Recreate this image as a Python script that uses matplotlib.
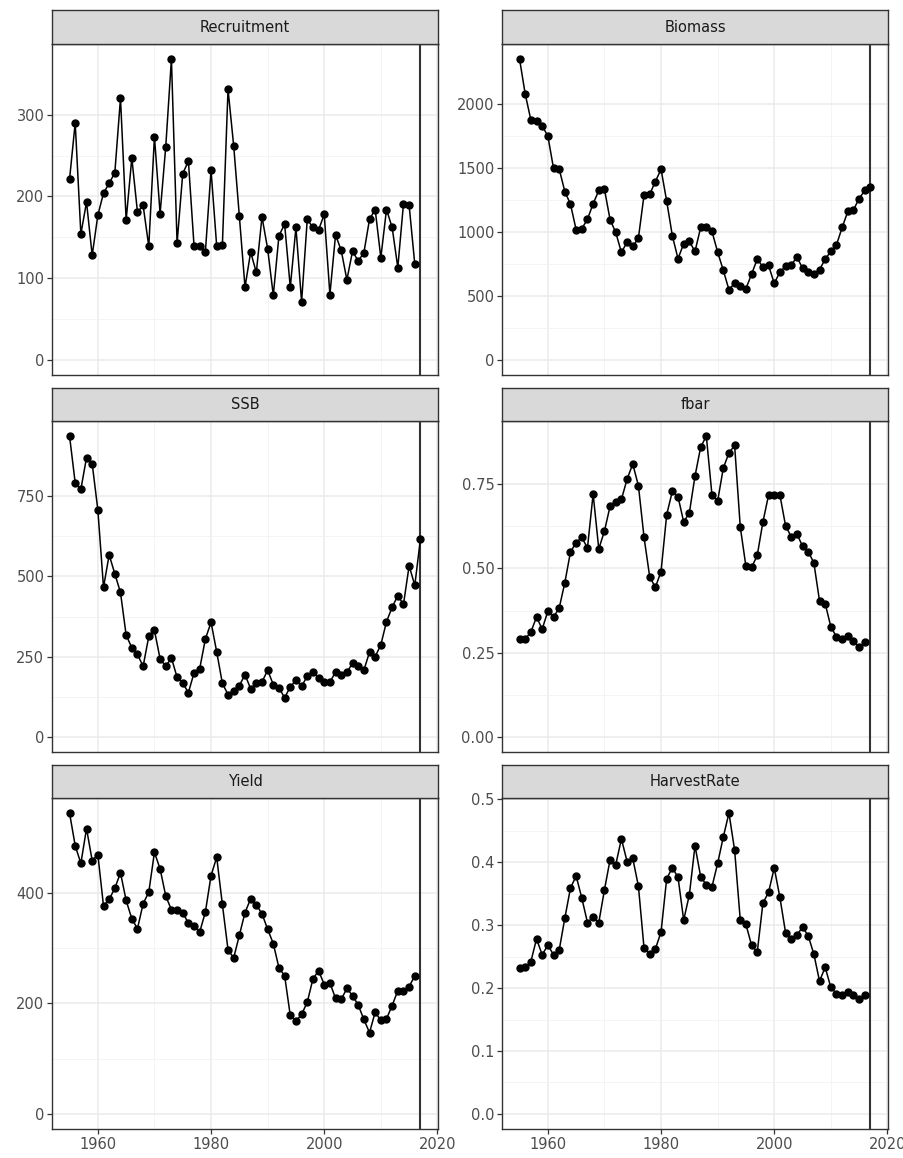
import numpy as np
import matplotlib
matplotlib.use("Agg")
import matplotlib.pyplot as plt

plt.rcParams['font.family'] = ['DejaVu Sans']

# years (Biomass and SSB carry one extra year)
years = np.arange(1955, 2017)
years_ext = np.arange(1955, 2018)
ref_year = 2017

recruitment = [221, 290, 154, 193, 128, 177, 204, 216, 229, 320, 171, 247, 181, 189, 139,
               273, 179, 261, 368, 143, 228, 243, 139, 139, 132, 232, 139, 140, 331, 262,
               176, 89, 132, 107, 175, 136, 79, 152, 166, 89, 162, 71, 172, 162, 159, 178,
               80, 153, 134, 98, 133, 121, 131, 172, 184, 125, 184, 162, 113, 191, 189, 117]

biomass = [2351, 2078, 1875, 1867, 1828, 1750, 1498, 1493, 1316, 1217, 1017, 1025, 1100,
           1220, 1324, 1334, 1095, 996, 840, 921, 887, 952, 1290, 1295, 1394, 1490, 1240,
           970, 791, 908, 926, 848, 1035, 1035, 1004, 843, 700, 549, 601, 575, 557, 671,
           788, 726, 739, 598, 687, 731, 741, 804, 718, 687, 671, 705, 788, 848, 900, 1035,
           1160, 1173, 1261, 1324, 1355]

ssb = [937, 791, 771, 870, 851, 707, 466, 567, 508, 450, 317, 278, 257, 220, 313, 332,
       243, 220, 246, 186, 168, 138, 200, 213, 305, 357, 265, 167, 132, 144, 160, 194,
       150, 167, 171, 208, 163, 153, 122, 156, 177, 158, 189, 202, 184, 171, 171, 202,
       192, 202, 229, 220, 208, 264, 250, 287, 359, 404, 440, 413, 533, 472, 617]

fbar = [0.291, 0.291, 0.311, 0.356, 0.320, 0.373, 0.356, 0.382, 0.458, 0.549, 0.577,
        0.592, 0.561, 0.721, 0.558, 0.611, 0.685, 0.696, 0.705, 0.765, 0.810, 0.746,
        0.592, 0.475, 0.444, 0.491, 0.660, 0.729, 0.713, 0.638, 0.665, 0.774, 0.860,
        0.893, 0.718, 0.700, 0.798, 0.843, 0.865, 0.623, 0.506, 0.503, 0.539, 0.638,
        0.718, 0.719, 0.718, 0.627, 0.594, 0.603, 0.566, 0.550, 0.517, 0.404, 0.396,
        0.327, 0.297, 0.290, 0.299, 0.285, 0.266, 0.281]

yield_ = [544, 485, 453, 516, 458, 469, 376, 388, 408, 436, 386, 353, 335, 380, 401, 473,
          443, 394, 369, 368, 364, 345, 340, 329, 365, 431, 464, 379, 297, 282, 323, 364,
          389, 378, 362, 334, 308, 264, 250, 178, 168, 180, 202, 244, 259, 234, 237, 209,
          207, 227, 214, 197, 171, 147, 184, 169, 172, 196, 223, 222, 230, 250]

harvest_rate = [0.232, 0.233, 0.242, 0.278, 0.253, 0.268, 0.253, 0.260, 0.311, 0.359,
                0.378, 0.343, 0.304, 0.313, 0.304, 0.356, 0.404, 0.396, 0.437, 0.401,
                0.406, 0.362, 0.263, 0.254, 0.262, 0.289, 0.374, 0.391, 0.376, 0.308,
                0.348, 0.426, 0.377, 0.364, 0.361, 0.398, 0.440, 0.478, 0.419, 0.308,
                0.301, 0.268, 0.257, 0.335, 0.352, 0.391, 0.344, 0.288, 0.278, 0.284,
                0.297, 0.283, 0.254, 0.211, 0.233, 0.201, 0.191, 0.189, 0.193, 0.189,
                0.182, 0.189]

panels = [
    ("Recruitment", years, recruitment, [0, 100, 200, 300], None),
    ("Biomass", years_ext, biomass, [0, 500, 1000, 1500, 2000], None),
    ("SSB", years_ext, ssb, [0, 250, 500, 750], None),
    ("fbar", years, fbar, [0.0, 0.25, 0.5, 0.75], "{:.2f}"),
    ("Yield", years, yield_, [0, 200, 400], None),
    ("HarvestRate", years, harvest_rate, [0.0, 0.1, 0.2, 0.3, 0.4, 0.5], "{:.1f}"),
]

W, H = 904, 1158
fig = plt.figure(figsize=(W / 100, H / 100), dpi=100)

cols_px = [(52, 438), (502, 888)]
rows_px = [(10, 44, 375), (388, 421, 752), (765, 798, 1129)]

grey20 = "#333333"
xlim = (1951.9, 2020.1)

for i, (name, x, y, yticks, fmt) in enumerate(panels):
    r, c = divmod(i, 2)
    x0, x1 = cols_px[c]
    s_top, p_top, p_bot = rows_px[r]

    ax = fig.add_axes([x0 / W, 1 - p_bot / H, (x1 - x0) / W, (p_bot - p_top) / H])
    sx = fig.add_axes([x0 / W, 1 - p_top / H, (x1 - x0) / W, (p_top - s_top) / H])

    # strip
    sx.set_facecolor("#D9D9D9")
    sx.set_xticks([])
    sx.set_yticks([])
    for sp in sx.spines.values():
        sp.set_color(grey20)
        sp.set_linewidth(1.0)
    sx.text(0.5, 0.5, name, ha="center", va="center", fontsize=10.5,
            color="#1A1A1A", transform=sx.transAxes)

    # ggplot-like limits: include 0, 5% expansion
    lo = min(0, min(y))
    hi = max(y)
    pad = (hi - lo) * 0.05
    ax.set_ylim(lo - pad, hi + pad)
    ax.set_xlim(*xlim)

    ax.set_xticks([1960, 1980, 2000, 2020])
    ax.set_xticks([1970, 1990, 2010], minor=True)
    ax.set_yticks(yticks)
    ax.set_yticks([(a + b) / 2 for a, b in zip(yticks[:-1], yticks[1:])], minor=True)
    if fmt:
        ax.set_yticklabels([fmt.format(v) for v in yticks])

    ax.grid(which="major", color="#EBEBEB", linewidth=1.1)
    ax.grid(which="minor", color="#F2F2F2", linewidth=0.6)
    ax.set_axisbelow(True)

    ax.tick_params(which="major", length=3.5, width=0.9, color=grey20,
                   labelsize=10.5, labelcolor="#4D4D4D", pad=2)
    ax.tick_params(which="minor", length=0)
    if r < 2:
        ax.tick_params(axis="x", which="major", length=0, labelbottom=False)

    for sp in ax.spines.values():
        sp.set_color(grey20)
        sp.set_linewidth(1.0)

    ax.plot(x, y, color="black", linewidth=1.1, marker="o", markersize=5, zorder=3)
    ax.axvline(ref_year, color=grey20, linewidth=1.5, zorder=2)

fig.savefig("out.png", dpi=100)
